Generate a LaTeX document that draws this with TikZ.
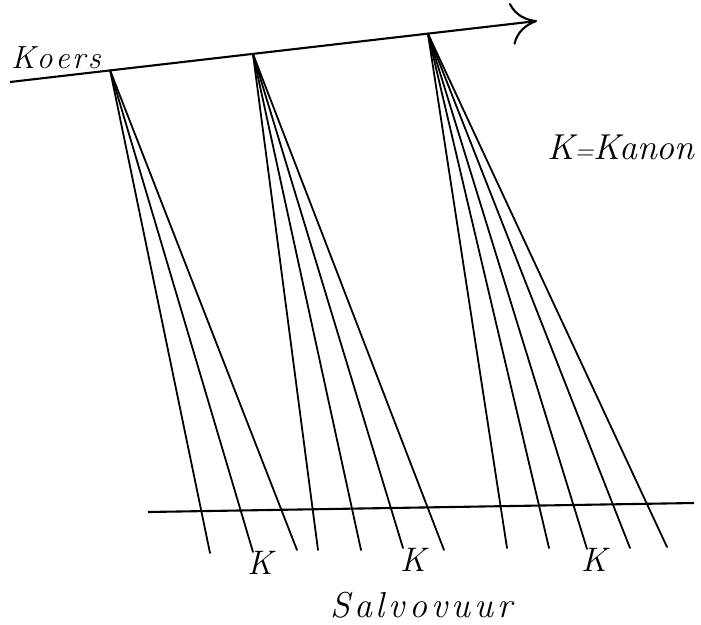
\documentclass[tikz,border=0pt]{standalone}
\usetikzlibrary{arrows.meta}
\begin{document}
\begin{tikzpicture}[x=1pt,y=-1pt,
  ray/.style={line width=1.8pt, line cap=round},
  mainline/.style={line width=2.1pt},
  lbl/.style={inner sep=0pt, anchor=base west, font=\itshape}]
\useasboundingbox (0,0) rectangle (701,624);
% course line
\coordinate (cs) at (10,82);
\coordinate (ct) at (537,21);
\path (cs) -- (ct) coordinate[pos=0.19] (o1) coordinate[pos=0.461] (o2) coordinate[pos=0.793] (o3);
\draw[mainline, -{To[length=26pt,width=42pt]}] (cs) -- (ct);
% salvo line
\coordinate (bl) at (148,512);
\coordinate (br) at (694,503);
\draw[mainline] (bl) -- (br);
% ray ends
\foreach \n/\x/\y in {1/210/553, 2/253/552, 3/297/550,
                      4/318/550, 5/361/550, 6/403/548, 7/444/550,
                      8/507/548, 9/549/548, 10/587/549, 11/630/548, 12/667/547}
  \coordinate (e\n) at (\x,\y);
\foreach \e in {1,2,3} \draw[ray] (o1) -- (e\e);
\foreach \e in {4,5,6,7} \draw[ray] (o2) -- (e\e);
\foreach \e in {8,9,10,11,12} \draw[ray] (o3) -- (e\e);
% labels
\node[lbl, font=\fontsize{32}{38}\selectfont\itshape] (koers) at (11,68) {K\kern1.5pt o\kern2.5pt e\kern2.5pt r\kern2.5pt s};
\node[lbl, font=\fontsize{36}{42}\selectfont\itshape] (kanon) at (547,159) {K{\fontsize{26}{30}\selectfont=}Kanon};
\node[lbl, font=\fontsize{34}{40}\selectfont\itshape] (k1) at (247,574) {K};
\node[lbl, font=\fontsize{34}{40}\selectfont\itshape] (k2) at (400,571) {K};
\node[lbl, font=\fontsize{34}{40}\selectfont\itshape] (k3) at (581,571) {K};
\node[lbl, font=\fontsize{36}{42}\selectfont\itshape] (salvo) at (330,617) {S\kern4pt a\kern4pt l\kern4pt v\kern4pt o\kern4pt v\kern4pt u\kern4pt u\kern4pt r};
\end{tikzpicture}
\end{document}
